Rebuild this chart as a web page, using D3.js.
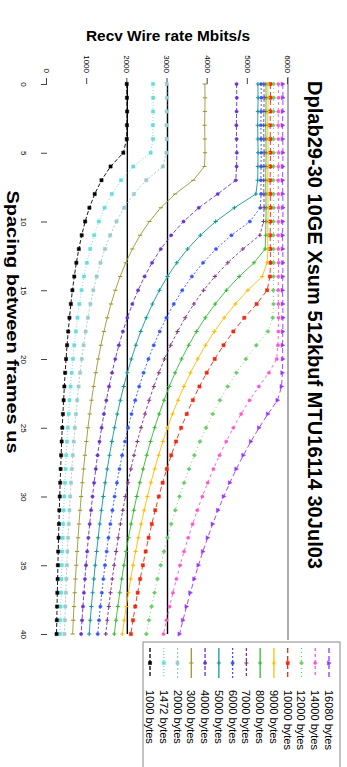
<!DOCTYPE html>
<html>
<head>
<meta charset="utf-8">
<script src="https://cdn.jsdelivr.net/npm/d3@7"></script>
<style>
  html, body { margin: 0; padding: 0; background: #fff; }
  svg { display: block; }
  text { font-family: "Liberation Sans", Arial, sans-serif; fill: #000; }
</style>
</head>
<body>
<svg id="chart" width="347" height="767"></svg>
<script>
// Inter-frame spacing (us) for every measurement
const spacing = [0,1,2,3,4,5,6,7,8,9,10,11,12,13,14,15,16,17,18,19,20,
                 21,22,23,24,25,26,27,28,29,30,31,32,33,34,35,36,37,38,39,40];

// Received wire rate (Mbit/s) per frame size
const rate16080 = [5870,5875,5870,5865,5870,5875,5870,5865,5870,5875,5870,5865,5870,5875,5870,5865,5870,5875,5870,5865,5870,5860,5840,
                   5739,5500,5280,5077,4889,4714,4552,4400,4258,4125,4000,3882,3771,3667,3568,3474,3385,3300];
const rate14000 = [5760,5765,5760,5755,5760,5765,5760,5755,5760,5765,5760,5755,5760,5765,5760,5755,5760,5765,5760,5750,5720,
                   5524,5273,5043,4833,4640,4462,4296,4143,4000,3867,3742,3625,3515,3412,3314,3222,3135,3053,2974,2900];
const rate12000 = [5640,5645,5640,5635,5640,5645,5640,5635,5640,5645,5640,5635,5640,5645,5640,5635,5640,5620,
                   5500,5211,4950,4714,4500,4304,4125,3960,3808,3667,3536,3414,3300,3194,3094,3000,2912,2829,2750,2676,2605,2538,2475];
const rate10000 = [5560,5565,5560,5555,5560,5565,5560,5555,5560,5565,5560,5555,5560,5565,5550,
                   5480,5219,4912,4639,4395,4175,3976,3795,3630,3479,3340,3212,3093,2982,2879,2783,2694,2609,2530,2456,2386,2319,2257,2197,2141,2088];
const rate9000  = [5500,5505,5500,5495,5500,5505,5500,5495,5500,5505,5500,5495,5500,5480,
                   5357,5000,4688,4412,4167,3947,3750,3571,3409,3261,3125,3000,2885,2778,2679,2586,2500,2419,2344,2273,2206,2143,2083,2027,1974,1923,1875];
const rate8000  = [5450,5455,5450,5445,5450,5455,5450,5445,5450,5455,5450,5445,5430,
                   5154,4786,4467,4188,3941,3722,3526,3350,3190,3045,2913,2792,2680,2577,2481,2393,2310,2233,2161,2094,2030,1971,1914,1861,1811,1763,1718,1675];
const rate7000  = [5400,5405,5400,5395,5400,5405,5400,5395,5400,5405,5390,
                   5300,4875,4500,4179,3900,3656,3441,3250,3079,2925,2786,2659,2543,2438,2340,2250,2167,2089,2017,1950,1887,1828,1773,1721,1671,1625,1581,1539,1500,1463];
const rate6000  = [5330,5335,5330,5325,5330,5335,5330,5325,5330,5310,
                   5050,4591,4208,3885,3607,3367,3156,2971,2806,2658,2525,2405,2295,2196,2104,2020,1942,1870,1804,1741,1683,1629,1578,1530,1485,1443,1403,1365,1329,1295,1263];
const rate5000  = [5250,5255,5250,5245,5250,5255,5250,5245,5200,
                   4667,4200,3818,3500,3231,3000,2800,2625,2471,2333,2211,2100,2000,1909,1826,1750,1680,1615,1556,1500,1448,1400,1355,1313,1273,1235,1200,1167,1135,1105,1077,1050];
const rate4000  = [4720,4725,4720,4715,4720,4725,4720,4700,
                   4250,3778,3400,3091,2833,2615,2429,2267,2125,2000,1889,1789,1700,1619,1545,1478,1417,1360,1308,1259,1214,1172,1133,1097,1063,1030,1000,971,944,919,895,872,850];
const rate3000  = [3930,3935,3930,3925,3930,3935,3920,
                   3643,3188,2833,2550,2318,2125,1962,1821,1700,1594,1500,1417,1342,1275,1214,1159,1109,1063,1020,981,944,911,879,850,823,797,773,750,729,708,689,671,654,638];
const rate2000  = [2980,2985,2980,2975,2980,2970,
                   2883,2471,2163,1922,1730,1573,1442,1331,1236,1153,1081,1018,961,911,865,824,786,752,721,692,665,641,618,597,577,558,541,524,509,494,481,468,455,444,433];
const rate1472  = [2640,2645,2640,2635,2640,
                   2580,2150,1843,1613,1433,1290,1173,1075,992,921,860,806,759,717,679,645,614,586,561,538,516,496,478,461,445,430,416,403,391,379,369,358,349,339,331,323];
const rate1000  = [1985,1990,1995,1990,1985,
                   1900,1583,1357,1188,1056,950,864,792,731,679,633,594,559,528,500,475,452,432,413,396,380,365,352,339,328,317,306,297,288,279,271,264,257,250,244,238];

const frameSizes = [16080,14000,12000,10000,9000,8000,7000,6000,5000,4000,3000,2000,1472,1000];
const seriesValues = [rate16080,rate14000,rate12000,rate10000,rate9000,rate8000,rate7000,
                      rate6000,rate5000,rate4000,rate3000,rate2000,rate1472,rate1000];

const rateTicks = [0,1000,2000,3000,4000,5000,6000];
const spacingTicks = [0,5,10,15,20,25,30,35,40];
const markerRates = [2000,3000];

const chartTitle = "Dplab29-30 10GE Xsum 512kbuf MTU16114 30Jul03";
const xTitle = "Spacing between frames us";
const yTitle = "Recv Wire rate Mbits/s";

// Line/marker styling per series (same order as frameSizes)
const seriesColor  = ["#9933ff","#ff55cc","#66cc66","#ee2a10","#ffbb00","#33bb33","#883388",
                      "#3355ff","#119999","#6633cc","#999933","#99cccc","#66dddd","#000000"];
const seriesMarker = ["triangle","circle","diamond","square","plus","plus","plus",
                      "circle","plus","circle","dash","square","square","square"];
const seriesDash   = ["5,3","3,3","1,3","5,3","","","3,2","2,2","","4,2","","2,2","1,2","4,2"];

// Logical (landscape) drawing size; the whole chart is turned a quarter turn clockwise
const W = 767, H = 347;

const svg = d3.select("#chart");
svg.append("rect").attr("width", 347).attr("height", 767).attr("fill", "#fff");
const g = svg.append("g").attr("transform", `translate(${H},0) rotate(90)`);

const x = d3.scaleLinear().domain([0, 40]).range([84, 634]);
const y = d3.scaleLinear().domain([0, 6000]).range([300, 59]);

// Plot top border
g.append("line")
  .attr("x1", 77).attr("x2", 640)
  .attr("y1", y(6000)).attr("y2", y(6000))
  .attr("stroke", "#777").attr("stroke-width", 1.2);

// Reference rate lines
g.selectAll("line.ref").data(markerRates).join("line")
  .attr("class", "ref")
  .attr("x1", x(0)).attr("x2", x(40))
  .attr("y1", d => y(d)).attr("y2", d => y(d))
  .attr("stroke", "#000").attr("stroke-width", 1.4);

// Axes
const xAxis = g.append("g").attr("transform", `translate(0,${y(0)})`)
  .call(d3.axisBottom(x).tickValues(spacingTicks).tickSize(6).tickPadding(14));
const yAxis = g.append("g").attr("transform", `translate(${x(0)},0)`)
  .call(d3.axisLeft(y).tickValues(rateTicks).tickSize(6).tickPadding(5).tickFormat(d3.format("d")));
[xAxis, yAxis].forEach(a => {
  a.select(".domain").remove();
  a.selectAll(".tick line").attr("stroke", "#444");
  a.selectAll(".tick text").attr("font-size", 8).attr("font-family", "Liberation Sans, Arial, sans-serif");
});

// Marker shapes
function markerPath(type, s) {
  const h = s / 2;
  switch (type) {
    case "square":   return `M${-h},${-h}H${h}V${h}H${-h}Z`;
    case "diamond":  return `M0,${-h - 0.5}L${h + 0.5},0L0,${h + 0.5}L${-h - 0.5},0Z`;
    case "triangle": return `M0,${-h - 0.5}L${h + 0.5},${h}L${-h - 0.5},${h}Z`;
    case "circle":   return d3.symbol(d3.symbolCircle, s * s * 0.8)();
    case "plus":     return `M${-h - 0.5},0H${h + 0.5}M0,${-h - 0.5}V${h + 0.5}`;
    case "dash":     return `M0,${-h - 0.5}V${h + 0.5}`;
  }
  return "";
}
function drawMarker(sel, type, color) {
  const stroked = (type === "plus" || type === "dash");
  sel.attr("d", markerPath(type, 3.2))
    .attr("fill", stroked ? "none" : color)
    .attr("stroke", color)
    .attr("stroke-width", stroked ? 1.1 : 0.5);
}

const line = d3.line().x((d, i) => x(spacing[i])).y(d => y(d));

const series = frameSizes.map((size, i) => ({
  size, values: seriesValues[i],
  color: seriesColor[i], marker: seriesMarker[i], dash: seriesDash[i]
}));

const sg = g.selectAll("g.series").data(series).join("g").attr("class", "series");
sg.append("path")
  .attr("d", d => line(d.values))
  .attr("fill", "none")
  .attr("stroke", d => d.color)
  .attr("stroke-width", 0.9)
  .attr("stroke-dasharray", d => d.dash || null);
sg.each(function(d) {
  d3.select(this).selectAll("path.m").data(d.values).join("path")
    .attr("class", "m")
    .attr("transform", (v, i) => `translate(${x(spacing[i])},${y(v)})`)
    .call(drawMarker, d.marker, d.color);
});

// Titles
g.append("text")
  .attr("x", 325).attr("y", 39)
  .attr("text-anchor", "middle")
  .attr("font-size", 20).attr("font-weight", "bold")
  .attr("textLength", 488).attr("lengthAdjust", "spacingAndGlyphs")
  .text(chartTitle);
g.append("text")
  .attr("x", 322).attr("y", 340)
  .attr("text-anchor", "middle")
  .attr("font-size", 16).attr("font-weight", "bold")
  .attr("textLength", 263).attr("lengthAdjust", "spacingAndGlyphs")
  .text(xTitle);
g.append("text")
  .attr("transform", "translate(41,179) rotate(-90)")
  .attr("text-anchor", "middle")
  .attr("font-size", 15).attr("font-weight", "bold")
  .attr("textLength", 164).attr("lengthAdjust", "spacingAndGlyphs")
  .text(yTitle);

// Legend
const legend = g.append("g");
legend.append("rect")
  .attr("x", 642).attr("y", 7).attr("width", 140).attr("height", 197)
  .attr("fill", "#fff").attr("stroke", "#888").attr("stroke-width", 1);
const rowY = d3.scalePoint().domain(frameSizes).range([18, 197]);
const li = legend.selectAll("g.item").data(series).join("g")
  .attr("class", "item")
  .attr("transform", d => `translate(0,${rowY(d.size)})`);
li.append("line")
  .attr("x1", 648).attr("x2", 678)
  .attr("stroke", d => d.color).attr("stroke-width", 1.3)
  .attr("stroke-dasharray", d => d.dash || null);
li.each(function(d) {
  d3.select(this).append("path")
    .attr("transform", "translate(663,0)")
    .call(drawMarker, d.marker, d.color);
});
li.append("text")
  .attr("x", 690).attr("y", 4)
  .attr("font-size", 11)
  .text(d => `${d.size} bytes`);
</script>
</body>
</html>
